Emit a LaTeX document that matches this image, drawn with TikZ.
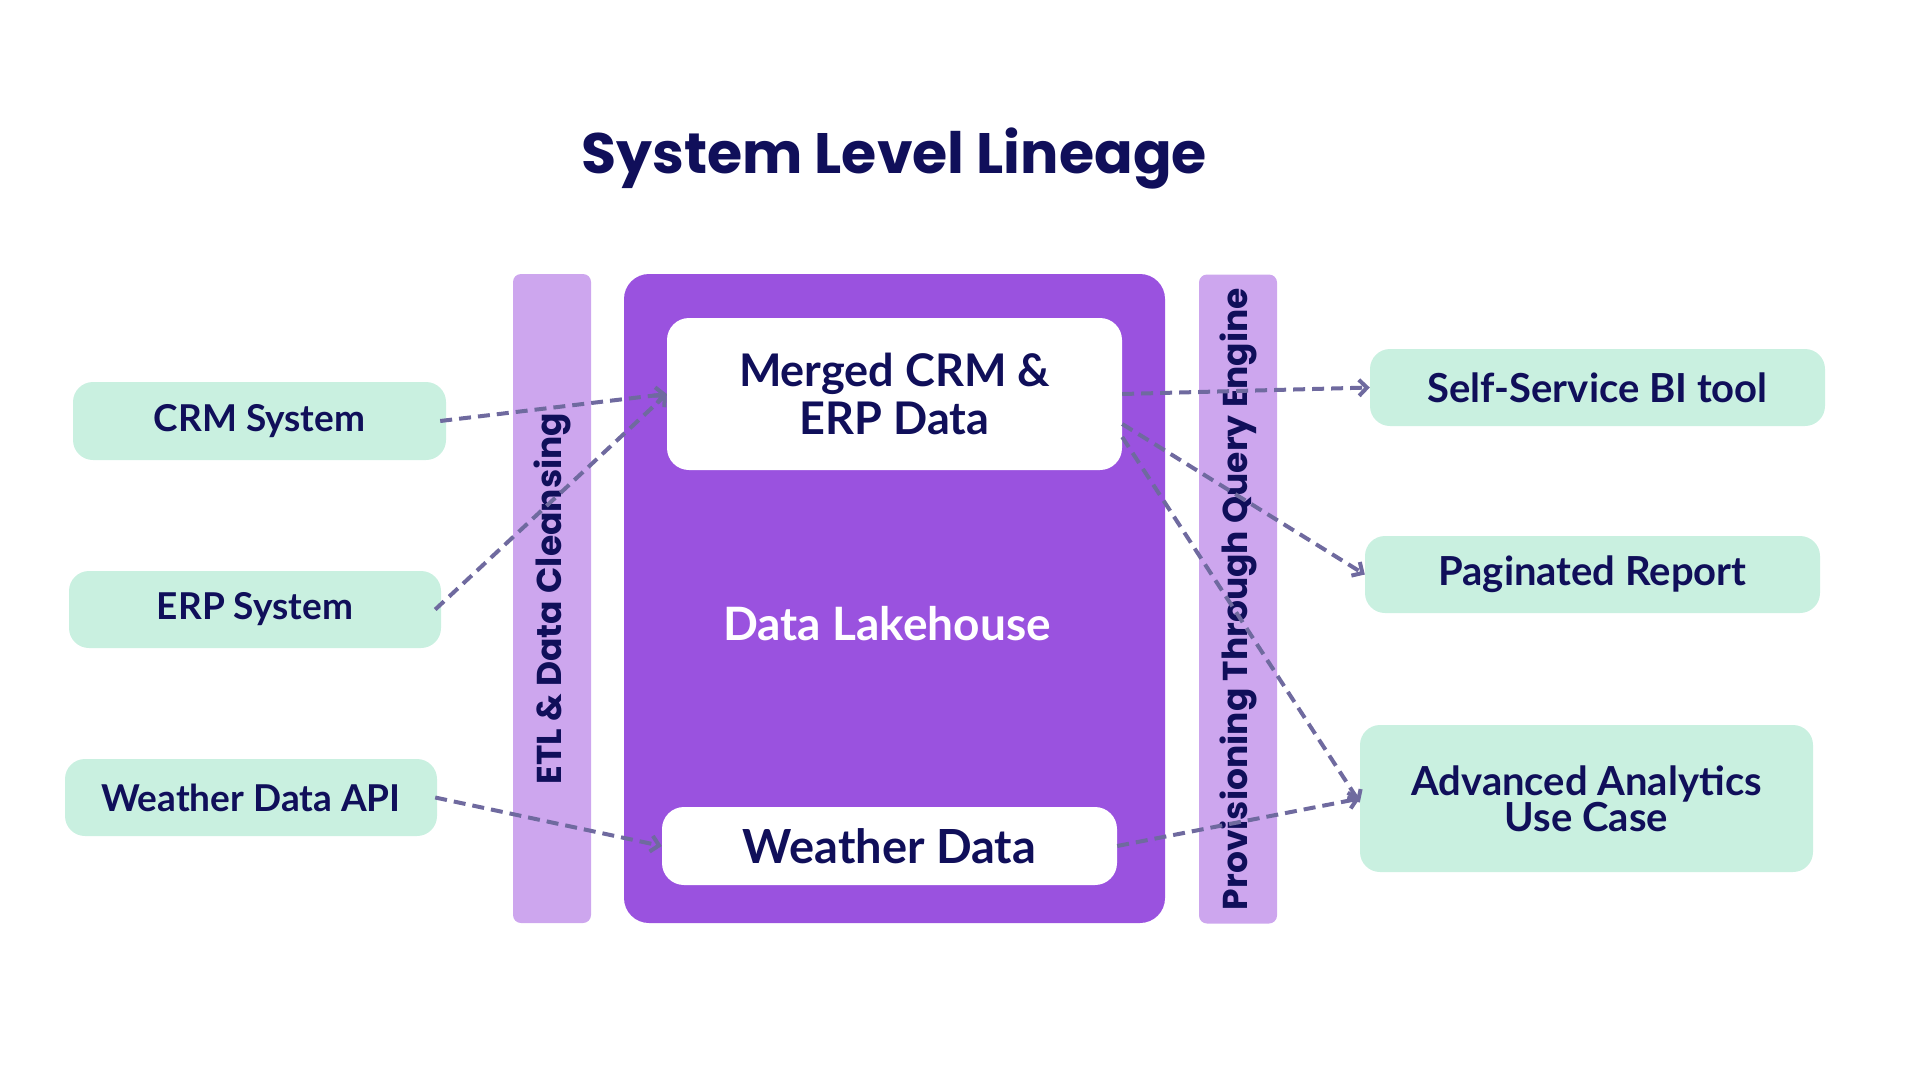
\documentclass[tikz,border=0pt]{standalone}
\usepackage{fontspec}
\setmainfont{Lato}
\newfontfamily\headfont{Poppins}
\usetikzlibrary{arrows.meta}

\definecolor{navy}{HTML}{100F5A}
\definecolor{mint}{HTML}{C9F0E0}
\definecolor{lake}{HTML}{9A52DF}
\definecolor{lilac}{HTML}{CDA6EE}
\definecolor{flow}{HTML}{6F6A9F}

\tikzset{
  sysbox/.style={rectangle, rounded corners=20pt, fill=mint, text=navy,
    font=\fontsize{37}{40}\selectfont\bfseries, align=center},
  usebox/.style={sysbox, font=\fontsize{40}{36}\selectfont\bfseries},
  stagebar/.style={rectangle, rounded corners=8pt, fill=lilac,
    minimum width=78pt, minimum height=649pt},
  stagetext/.style={text=navy, rotate=90, font=\headfont\fontsize{34.5}{36}\selectfont\bfseries},
  storebox/.style={rectangle, rounded corners=22pt, fill=white, text=navy,
    font=\fontsize{45}{48}\selectfont\bfseries, align=center},
  flowline/.style={draw=flow, line width=4pt, dash pattern=on 12pt off 7pt,
    -{Straight Barb[length=8pt,width=16pt]}}
}

\begin{document}
\begin{tikzpicture}[x=1pt, y=-1pt]
    \useasboundingbox (0,0) rectangle (1920,1080);

    \node[text=navy, font=\headfont\fontsize{57}{62}\selectfont\bfseries] (title) at (894,159) {System Level Lineage};

    % stages and lakehouse
    \node[stagebar] (etl) at (552,598.5) {};
    \node[stagetext] at (etl) {ETL \& Data Cleansing};
    \node[rectangle, rounded corners=25pt, fill=lake, minimum width=541pt, minimum height=649pt] (lake) at (894.5,598.5) {};
    \node[text=white, font=\fontsize{46}{48}\selectfont\bfseries] (lakelabel) at (887,624) {Data Lakehouse};
    \node[stagebar] (prov) at (1238,599) {};
    \node[stagetext] at (prov) {Provisioning Through Query Engine};

    \node[storebox, minimum width=455pt, minimum height=152pt] (merged) at (894.5,394) {Merged CRM \&\\ERP Data};
    \node[storebox, minimum width=455pt, minimum height=78pt, font=\fontsize{47}{50}\selectfont\bfseries] (wdata) at (889.5,846) {Weather Data};

    % sources
    \node[sysbox, minimum width=373pt, minimum height=78pt] (crm) at (259.5,421) {CRM System};
    \node[sysbox, minimum width=372pt, minimum height=77pt] (erp) at (255,609.5) {ERP System};
    \node[sysbox, minimum width=372pt, minimum height=77pt] (wapi) at (251,797.5) {Weather Data API};

    % consumers
    \node[usebox, minimum width=455pt, minimum height=77pt] (bi) at (1597.5,387.5) {Self-Service BI tool};
    \node[usebox, minimum width=455pt, minimum height=77pt] (pag) at (1592.5,574.5) {Paginated Report};
    \node[usebox, minimum width=453pt, minimum height=147pt] (adv) at (1586.5,798.5) {Advanced Analytics\\Use Case};

    \coordinate (m2) at ([yshift=-30pt]merged.east);
    \coordinate (m3) at ([yshift=-43pt]merged.east);

    \draw[flowline] ([xshift=-6pt]crm.east) -- (merged.west);
    \draw[flowline] ([xshift=-6pt]erp.east) -- (merged.west);
    \draw[flowline] ([xshift=-2pt]wapi.east) -- (wdata.west);
    \draw[flowline] (merged.east) -- (bi.west);
    \draw[flowline] (m2) -- (pag.west);
    \draw[flowline] (m3) -- ([yshift=-4pt]adv.west);
    \draw[flowline] (wdata.east) -- (adv.west);
\end{tikzpicture}
\end{document}
